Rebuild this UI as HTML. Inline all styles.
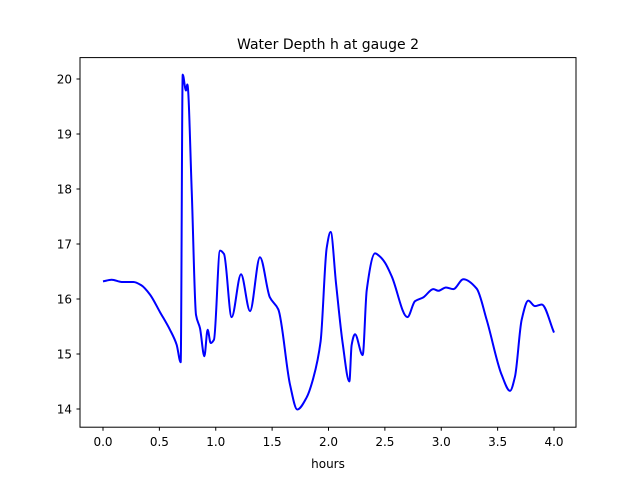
<!DOCTYPE html>
<html><head><meta charset="utf-8"><style>
body{margin:0;background:#fff;font-family:"Liberation Sans","DejaVu Sans",sans-serif;}
svg text{font-family:"DejaVu Sans","Liberation Sans",sans-serif;}
</style></head><body>
<svg id="chart" width="640" height="480" xmlns="http://www.w3.org/2000/svg">
<rect width="640" height="480" fill="#fff"/>
<text x="328" y="49" text-anchor="middle" font-size="14">Water Depth h at gauge 2</text>
<g id="xticks"></g><g id="yticks"></g>
<path id="series" fill="none" stroke="#0000ff" stroke-width="2" stroke-linejoin="round"/>
<rect x="80" y="57.6" width="496" height="369.6" fill="none" stroke="#000" stroke-width="1"/>
<text x="328" y="468" text-anchor="middle" font-size="12">hours</text>
</svg>
<script>
const times=[0,0.077,0.166,0.27,0.34,0.417,0.506,0.594,0.653,0.689,0.707,0.736,0.748,0.787,0.825,0.86,0.899,0.928,0.955,0.984,1.038,1.073,1.141,1.224,1.304,1.392,1.48,1.555,1.659,1.723,1.806,1.865,1.93,1.984,2.019,2.067,2.126,2.185,2.205,2.235,2.303,2.339,2.413,2.457,2.501,2.561,2.7,2.767,2.841,2.93,2.974,3.042,3.107,3.196,3.314,3.403,3.536,3.61,3.654,3.713,3.772,3.831,3.891,4.0];
const depths=[16.32,16.35,16.31,16.31,16.25,16.08,15.76,15.44,15.17,14.85,20.08,19.79,19.9,17.96,15.71,15.47,14.96,15.44,15.2,15.26,16.88,16.82,15.67,16.45,15.78,16.76,16.03,15.81,14.44,13.99,14.21,14.56,15.23,16.93,17.22,16.28,15.19,14.5,15.16,15.36,14.98,16.16,16.83,16.77,16.66,16.41,15.67,15.96,16.03,16.18,16.15,16.21,16.18,16.36,16.19,15.62,14.62,14.33,14.59,15.62,15.97,15.87,15.9,15.39];
const xTickLabels=["0.0","0.5","1.0","1.5","2.0","2.5","3.0","3.5","4.0"];
const yTickLabels=["14","15","16","17","18","19","20"];
const X=t=>103+112.75*t;
const Y=h=>79+(20-h)*55;
const NS="http://www.w3.org/2000/svg";
// monotone cubic interpolation (no overshoot)
(function(){
 const px=times.map(X), py=depths.map(Y), n=px.length;
 const d=[],m=[];
 for(let i=0;i<n-1;i++) d.push((py[i+1]-py[i])/(px[i+1]-px[i]));
 m[0]=d[0]; m[n-1]=d[n-2];
 for(let i=1;i<n-1;i++){
  if(d[i-1]*d[i]<=0) m[i]=0;
  else { const w1=2*(px[i+1]-px[i])+(px[i]-px[i-1]), w2=(px[i+1]-px[i])+2*(px[i]-px[i-1]);
   m[i]=(w1+w2)/(w1/d[i-1]+w2/d[i]); }
 }
 let s='M'+px[0].toFixed(1)+','+py[0].toFixed(1);
 for(let i=0;i<n-1;i++){
  const h=(px[i+1]-px[i])/3;
  s+=' C'+(px[i]+h).toFixed(2)+','+(py[i]+m[i]*h).toFixed(2)+' '+(px[i+1]-h).toFixed(2)+','+(py[i+1]-m[i+1]*h).toFixed(2)+' '+px[i+1].toFixed(2)+','+py[i+1].toFixed(2);
 }
 document.getElementById('series').setAttribute('d',s);
})();
const xg=document.getElementById('xticks');
xTickLabels.forEach(l=>{const x=X(parseFloat(l));
 const ln=document.createElementNS(NS,'line');
 
 
 ln.setAttribute('x1',x);ln.setAttribute('x2',x);ln.setAttribute('y1',427.2);ln.setAttribute('y2',430.7);ln.setAttribute('stroke','#000');xg.appendChild(ln);
 const tx=document.createElementNS(NS,'text');
 
 
 tx.setAttribute('x',x);tx.setAttribute('y',446);tx.setAttribute('text-anchor','middle');tx.setAttribute('font-size','12');tx.textContent=l;xg.appendChild(tx);});
const yg=document.getElementById('yticks');
yTickLabels.forEach(l=>{const y=Y(parseFloat(l));
 const ln=document.createElementNS(NS,'line');
 
 
 ln.setAttribute('x1',76.5);ln.setAttribute('x2',80);ln.setAttribute('y1',y);ln.setAttribute('y2',y);ln.setAttribute('stroke','#000');yg.appendChild(ln);
 const tx=document.createElementNS(NS,'text');
 
 
 tx.setAttribute('x',72);tx.setAttribute('y',y+4.5);tx.setAttribute('text-anchor','end');tx.setAttribute('font-size','12');tx.textContent=l;yg.appendChild(tx);});
</script>
</body></html>
